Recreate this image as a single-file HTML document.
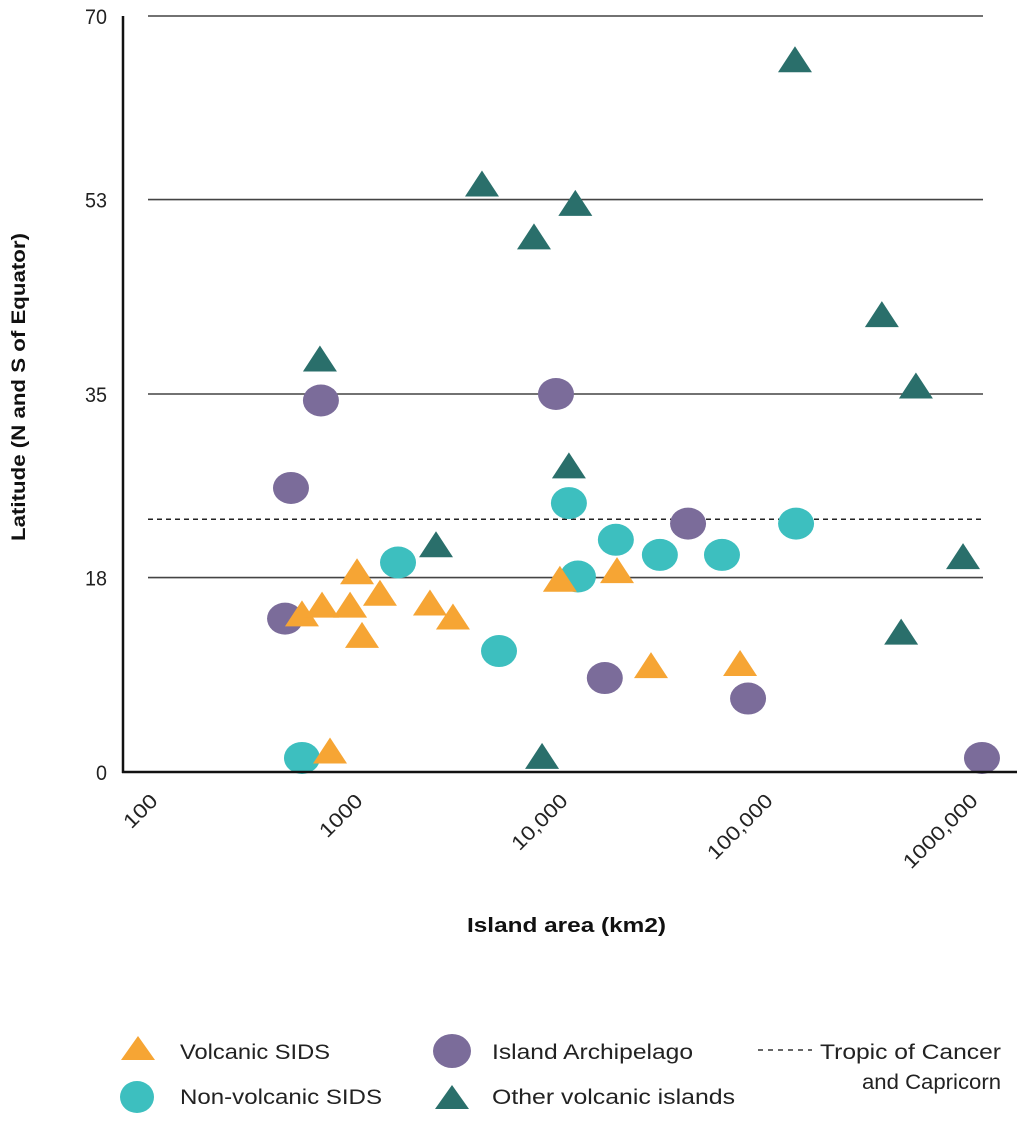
<!DOCTYPE html>
<html><head><meta charset="utf-8">
<style>
html,body{margin:0;padding:0;background:#fff;}
svg{display:block;font-family:"Liberation Sans",Arial,sans-serif;}
</style></head>
<body>
<svg id="chart" width="1024" height="1121" viewBox="0 0 1024 1121" xmlns="http://www.w3.org/2000/svg">
<g id="grid"></g>
<g id="marks"></g>
<g id="axes"></g>
<text transform="translate(25,387) rotate(-90)" text-anchor="middle" font-size="19" font-weight="bold" fill="#111" textLength="308" lengthAdjust="spacingAndGlyphs">Latitude (N and S of Equator)</text>
<text x="467" y="932" font-size="20" font-weight="bold" fill="#111" textLength="199" lengthAdjust="spacingAndGlyphs">Island area (km2)</text>
<g font-size="21" fill="#222">
  <g>
    <polygon points="138,1036 121,1060 155,1060" fill="#F6A534"/>
    <text x="180" y="1059" textLength="150" lengthAdjust="spacingAndGlyphs">Volcanic SIDS</text>
  </g>
  <g>
    <ellipse cx="137" cy="1097" rx="17" ry="16" fill="#3DBFBF"/>
    <text x="180" y="1104" textLength="202" lengthAdjust="spacingAndGlyphs">Non-volcanic SIDS</text>
  </g>
  <g>
    <ellipse cx="452" cy="1051" rx="19" ry="17" fill="#7B6C9A"/>
    <text x="492" y="1059" textLength="201" lengthAdjust="spacingAndGlyphs">Island Archipelago</text>
  </g>
  <g>
    <polygon points="452,1085 435,1109 469,1109" fill="#2A6F6B"/>
    <text x="492" y="1104" textLength="243" lengthAdjust="spacingAndGlyphs">Other volcanic islands</text>
  </g>
  <g>
    <line x1="758" y1="1050" x2="812" y2="1050" stroke="#333" stroke-width="1.5" stroke-dasharray="5,5"/>
    <text x="820" y="1059" textLength="181" lengthAdjust="spacingAndGlyphs">Tropic of Cancer</text>
    <text x="862" y="1089" textLength="139" lengthAdjust="spacingAndGlyphs">and Capricorn</text>
  </g>
</g>
</svg>
<script>
const yTicks = [0, 18, 35, 53, 70];
const xTicks = [100, 1000, 10000, 100000, 1000000];
const xTickLabels = ["100", "1000", "10,000", "100,000", "1000,000"];
const tropicLat = 23.4;

const volcanicArea = [640, 788, 1054, 1133, 1193, 1437, 2414, 3064, 856, 9290, 16800, 23900, 60200];
const volcanicLat  = [14.6, 15.4, 15.4, 18.5, 12.6, 16.5, 15.6, 14.3, 1.9, 17.8, 18.6, 9.8, 10.0];

const nonVolcanicArea = [640, 1733, 4940, 10200, 11200, 16600, 26200, 49900, 107600];
const nonVolcanicLat  = [1.3, 19.4, 11.2, 24.9, 18.1, 21.5, 20.1, 20.1, 23.0];

const archipelagoArea = [571, 779, 537, 8920, 14800, 35100, 65400, 740000];
const archipelagoLat  = [26.3, 34.4, 14.2, 35.0, 8.7, 23.0, 6.8, 1.3];

const otherArea = [771, 4140, 7100, 10900, 10200, 2570, 7720, 106400, 262000, 373000, 320000, 608000];
const otherLat  = [38.2, 54.4, 49.5, 52.6, 28.3, 21.0, 1.4, 65.9, 42.3, 35.7, 12.9, 19.9];

const NS = "http://www.w3.org/2000/svg";
const X0 = 123, DEC = 222, Y0 = 772, YTOP = 16;
function xs(v){ return X0 + (Math.log10(v) - 2) * DEC; }
function ys(v){ return Y0 - (v / 70) * (Y0 - YTOP); }
function mk(tag, attrs, parent){
  const e = document.createElementNS(NS, tag);
  for (const k in attrs) e.setAttribute(k, attrs[k]);
  parent.appendChild(e);
  return e;
}
const grid = document.getElementById('grid');
const axes = document.getElementById('axes');
const marks = document.getElementById('marks');

yTicks.forEach(t => {
  if (t > 0) {
    const l = mk('line', {x1:148, x2:983, y1:ys(t), y2:ys(t), stroke:'#444', 'stroke-width':1.6}, grid);
    
    
  }
  const tx = mk('text', {x:107, y:ys(t)+8, 'text-anchor':'end', 'font-size':21, fill:'#222', textLength: String(t).length*11, lengthAdjust:'spacingAndGlyphs'}, axes);
  tx.textContent = t;
  
  
});
const tl = mk('line', {x1:148, x2:983, y1:ys(tropicLat), y2:ys(tropicLat), stroke:'#222', 'stroke-width':1.5, 'stroke-dasharray':'5,4'}, grid);



const ya = mk('line', {x1:X0, x2:X0, y1:YTOP, y2:Y0+1, stroke:'#111', 'stroke-width':2.5}, axes);


const xa = mk('line', {x1:X0-1, x2:1017, y1:Y0, y2:Y0, stroke:'#111', 'stroke-width':2.5}, axes);



xTicks.forEach((t, i) => {
  const x = xs(t) + 36 - i * 17, y = 802;
  const len = xTickLabels[i].replace(',', '').length * 13 + (xTickLabels[i].includes(',') ? 5 : 0);
  const tx = mk('text', {x:x, y:y, 'text-anchor':'end', 'font-size':20, fill:'#222', textLength:len, lengthAdjust:'spacingAndGlyphs', transform:'rotate(-45 '+x+' '+y+')'}, axes);
  tx.textContent = xTickLabels[i];
  
  
});

function tri(area, lat, color, name){
  area.forEach((a, i) => {
    const cx = xs(a), cy = ys(lat[i]);
    const p = mk('polygon', {points: cx+','+(cy-14)+' '+(cx-17)+','+(cy+12)+' '+(cx+17)+','+(cy+12), fill:color}, marks);
    
    
  });
}
function circ(area, lat, color, name){
  area.forEach((a, i) => {
    const e = mk('ellipse', {cx:xs(a), cy:ys(lat[i]), rx:18, ry:16, fill:color}, marks);
    
    
  });
}
circ(archipelagoArea, archipelagoLat, '#7B6C9A', 'archipelago-point');
circ(nonVolcanicArea, nonVolcanicLat, '#3DBFBF', 'non-volcanic-sids-point');
tri(volcanicArea, volcanicLat, '#F6A534', 'volcanic-sids-point');
tri(otherArea, otherLat, '#2A6F6B', 'other-volcanic-point');
</script>
</body></html>
